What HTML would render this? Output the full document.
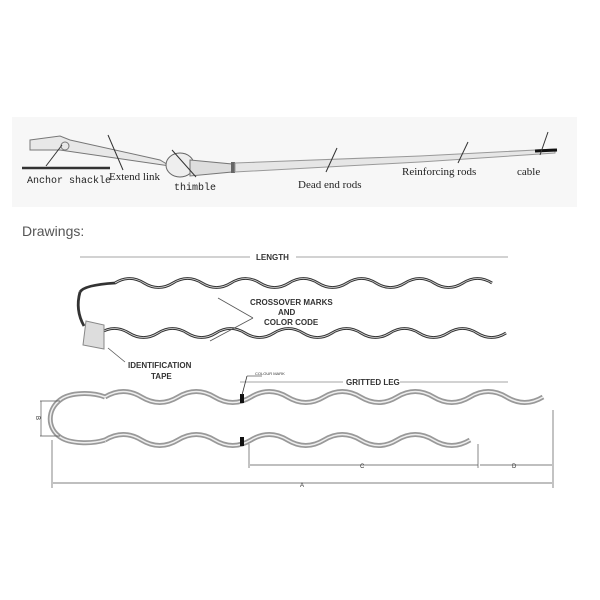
<!DOCTYPE html>
<html><head><meta charset="utf-8"><style>
html,body{margin:0;padding:0;background:#fff;width:600px;height:600px;overflow:hidden}
</style></head><body>
<svg width="600" height="600" viewBox="0 0 600 600" xmlns="http://www.w3.org/2000/svg" font-family="Liberation Sans,sans-serif">
<rect x="12" y="117" width="565" height="90" fill="#f7f7f7"/>
<line x1="22" y1="168" x2="110" y2="168" stroke="#333" stroke-width="2.5"/>
<path d="M30 140 L60 136 L70 140 L160 160 L170 166 L60 150 L30 150 Z" fill="#e8e8e8" stroke="#777" stroke-width="1"/>
<circle cx="65" cy="146" r="4" fill="none" stroke="#777"/>
<ellipse cx="180" cy="165" rx="14" ry="12" fill="#eee" stroke="#666"/>
<path d="M190 160 L232 164 L232 172 L190 176 Z" fill="#ddd" stroke="#777"/>
<rect x="231" y="162" width="4" height="11" fill="#666"/>
<path d="M235 163 L420 156 L555 149 L555 153 L420 162 L235 172 Z" fill="#e6e6e6" stroke="#999" stroke-width="1"/>
<line x1="535" y1="151" x2="557" y2="150" stroke="#111" stroke-width="3"/>
<g stroke="#333" stroke-width="1">
<line x1="62" y1="145" x2="46" y2="166"/>
<line x1="108" y1="135" x2="123" y2="170"/>
<line x1="172" y1="150" x2="196" y2="177"/>
<line x1="337" y1="148" x2="326" y2="172"/>
<line x1="468" y1="142" x2="458" y2="163"/>
<line x1="548" y1="132" x2="540" y2="155"/>
</g>
<g font-size="11" fill="#222" font-family="Liberation Serif,serif">
<text x="27" y="183" font-family="Liberation Mono,monospace" font-size="10">Anchor shackle</text>
<text x="109" y="180">Extend link</text>
<text x="174" y="190" font-family="Liberation Mono,monospace" font-size="10">thimble</text>
<text x="298" y="188">Dead end rods</text>
<text x="402" y="175">Reinforcing rods</text>
<text x="517" y="175">cable</text>
</g>
<text x="22" y="236" font-size="14" fill="#555">Drawings:</text>
<g stroke="#888" stroke-width="0.8">
<line x1="80" y1="257" x2="250" y2="257"/><line x1="296" y1="257" x2="508" y2="257"/>
<line x1="240" y1="382" x2="343" y2="382"/><line x1="400" y1="382" x2="508" y2="382"/>
</g>
<g font-size="8" font-weight="bold" fill="#333">
<text x="256" y="260">LENGTH</text>
<text x="346" y="385">GRITTED LEG</text>
<text x="250" y="305">CROSSOVER MARKS</text>
<text x="278" y="315">AND</text>
<text x="264" y="325">COLOR CODE</text>
<text x="128" y="368">IDENTIFICATION</text>
<text x="151" y="379">TAPE</text>
</g>
<g fill="none" stroke="#333" stroke-width="2.8">
<path d="M80 292 Q84 285 115 283 q14.5 -9 29 0 q14.5 9 29 0 q14.5 -9 29 0 q14.5 9 29 0 q14.5 -9 29 0 q14.5 9 29 0 q14.5 -9 29 0 q14.5 9 29 0 q14.5 -9 29 0 q14.5 9 29 0 q14.5 -9 29 0 q14.5 9 29 0 q14.5 -9 29 0"/>
<path d="M100 333 q14.5 -9 29 0 q14.5 9 29 0 q14.5 -9 29 0 q14.5 9 29 0 q14.5 -9 29 0 q14.5 9 29 0 q14.5 -9 29 0 q14.5 9 29 0 q14.5 -9 29 0 q14.5 9 29 0 q14.5 -9 29 0 q14.5 9 29 0 q14.5 -9 29 0 q14.5 9 29 0"/>
<path d="M80 292 Q75 310 84 326"/>
</g>
<g fill="none" stroke="#ddd" stroke-width="0.8">
<path d="M115 283 q14.5 -9 29 0 q14.5 9 29 0 q14.5 -9 29 0 q14.5 9 29 0 q14.5 -9 29 0 q14.5 9 29 0 q14.5 -9 29 0 q14.5 9 29 0 q14.5 -9 29 0 q14.5 9 29 0 q14.5 -9 29 0 q14.5 9 29 0 q14.5 -9 29 0"/>
<path d="M100 333 q14.5 -9 29 0 q14.5 9 29 0 q14.5 -9 29 0 q14.5 9 29 0 q14.5 -9 29 0 q14.5 9 29 0 q14.5 -9 29 0 q14.5 9 29 0 q14.5 -9 29 0 q14.5 9 29 0 q14.5 -9 29 0 q14.5 9 29 0 q14.5 -9 29 0 q14.5 9 29 0"/>
</g>
<path d="M86 321 L104 325 L104 349 L83 345 Z" fill="#ddd" stroke="#888"/>
<g stroke="#555" stroke-width="0.8"><line x1="218" y1="298" x2="253" y2="318"/><line x1="253" y1="318" x2="210" y2="341"/><line x1="108" y1="348" x2="125" y2="362"/></g>
<g fill="none">
<path d="M105 397 q18.25 -11 36.5 0 q18.25 11 36.5 0 q18.25 -11 36.5 0 q18.25 11 36.5 0 q18.25 -11 36.5 0 q18.25 11 36.5 0 q18.25 -11 36.5 0 q18.25 11 36.5 0 q18.25 -11 36.5 0 q18.25 11 36.5 0 q18.25 -11 36.5 0 q18.25 11 36.5 0" stroke="#999" stroke-width="5"/>
<path d="M105 440 q18.25 -11 36.5 0 q18.25 11 36.5 0 q18.25 -11 36.5 0 q18.25 11 36.5 0 q18.25 -11 36.5 0 q18.25 11 36.5 0 q18.25 -11 36.5 0 q18.25 11 36.5 0 q18.25 -11 36.5 0 q18.25 11 36.5 0" stroke="#999" stroke-width="5"/>
<path d="M105 397 C92 392 70 392 60 400 C47 410 47 428 60 437 C70 444 92 444 105 440" stroke="#999" stroke-width="5"/>
<path d="M105 397 q18.25 -11 36.5 0 q18.25 11 36.5 0 q18.25 -11 36.5 0 q18.25 11 36.5 0 q18.25 -11 36.5 0 q18.25 11 36.5 0 q18.25 -11 36.5 0 q18.25 11 36.5 0 q18.25 -11 36.5 0 q18.25 11 36.5 0 q18.25 -11 36.5 0 q18.25 11 36.5 0" stroke="#eee" stroke-width="1.5"/>
<path d="M105 440 q18.25 -11 36.5 0 q18.25 11 36.5 0 q18.25 -11 36.5 0 q18.25 11 36.5 0 q18.25 -11 36.5 0 q18.25 11 36.5 0 q18.25 -11 36.5 0 q18.25 11 36.5 0 q18.25 -11 36.5 0 q18.25 11 36.5 0" stroke="#eee" stroke-width="1.5"/>
<path d="M105 397 C92 392 70 392 60 400 C47 410 47 428 60 437 C70 444 92 444 105 440" stroke="#eee" stroke-width="1.5"/>
</g>
<rect x="240" y="394" width="4" height="9" fill="#111"/>
<rect x="240" y="437" width="4" height="9" fill="#111"/>
<line x1="242" y1="395" x2="247" y2="376" stroke="#333" stroke-width="0.8"/>
<line x1="247" y1="376" x2="262" y2="376" stroke="#333" stroke-width="0.6"/>
<text x="255" y="375" font-size="4" fill="#333">COLOUR MARK</text>
<g stroke="#555" stroke-width="0.7" fill="none">
<path d="M40 401 H60 M40 436 H60 M41 401 V436"/>
<path d="M249 444 V468 M478 444 V468 M553 410 V488 M52 440 V488"/>
<path d="M250 465 H478 M480 465 H552 M53 483 H552"/>
</g>
<g font-size="6" fill="#333"><text x="360" y="468">C</text><text x="512" y="468">D</text><text x="300" y="487">A</text><text x="36" y="420" transform="rotate(90 38 418)">B</text></g>
</svg>
</body></html>
